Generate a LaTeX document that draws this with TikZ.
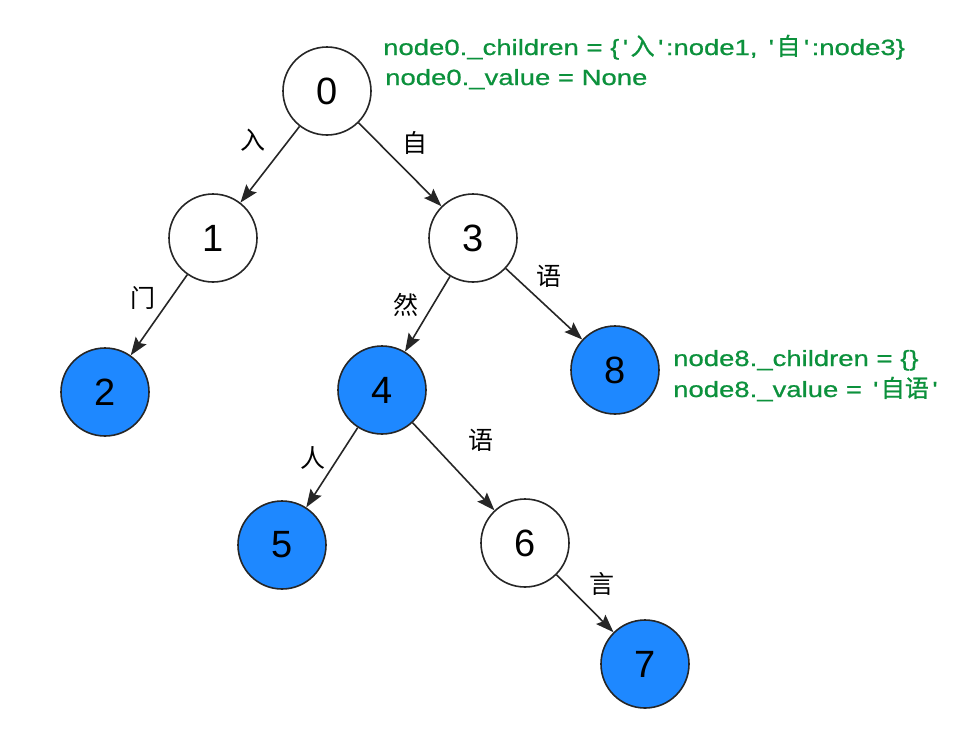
\documentclass[tikz,border=0pt]{standalone}
\usepackage{fontspec}
\setmainfont{Liberation Sans}
\newfontfamily\cjk{Noto Sans CJK SC}
\newfontfamily\codefont[FakeStretch=1.25, FakeBold=0.8]{Liberation Sans}
\newfontfamily\codecjk[FakeBold=0.8]{Noto Sans CJK SC}
\usepackage{tikz}
\usetikzlibrary{arrows.meta}
\definecolor{leafblue}{RGB}{30,136,255}
\definecolor{codegreen}{RGB}{12,145,60}
\newcommand{\q}{\hspace{3.5pt}\textquotesingle\hspace{3.5pt}}
\newcommand{\zh}[1]{{\fontsize{24}{24}\selectfont\codecjk #1}}

\begin{document}
\begin{tikzpicture}[x=1pt, y=-1pt,
        trie/.style={circle, draw=black!85, line width=1.6pt, minimum size=88pt, inner sep=0pt, fill=white, font=\fontsize{38}{38}\selectfont},
        leaf/.style={trie, fill=leafblue},
        edgelbl/.style={font=\fontsize{25}{25}\selectfont\cjk},
        code/.style={anchor=base west, inner sep=0pt, text=codegreen, font=\fontsize{22}{22}\selectfont\codefont},
        link/.style={->, line width=1.6pt, draw=black!85},
        >={Stealth[length=18pt, width=13pt, inset=3pt]}]
        \useasboundingbox (0,0) rectangle (956,740);
        \node[trie] (n0) at (327,91) {0};
        \node[trie] (n1) at (213,238) {1};
        \node[trie] (n3) at (473,238) {3};
        \node[leaf] (n2) at (105,392) {2};
        \node[leaf] (n4) at (382,390) {4};
        \node[leaf] (n8) at (615,370) {8};
        \node[leaf] (n5) at (282,545) {5};
        \node[trie] (n6) at (525,543) {6};
        \node[leaf] (n7) at (645,664) {7};
        \node[edgelbl] (c01) at (253,140) {入};
        \node[edgelbl] (c03) at (415,143) {自};
        \node[edgelbl] (c12) at (143,298) {门};
        \node[edgelbl] (c34) at (406,305) {然};
        \node[edgelbl] (c38) at (549,276) {语};
        \node[edgelbl] (c45) at (313,458) {人};
        \node[edgelbl] (c46) at (481,440) {语};
        \node[edgelbl] (c67) at (602,584) {言};
        \node[code] (v0a) at (383,55) {node0.\_children = \{\q\zh{入}\q:node1, \q\zh{自}\q:node3\}};
        \node[code] (v0b) at (385,85) {node0.\_value = None};
        \node[code] (v8a) at (673,366) {node8.\_children = \{\}};
        \node[code] (v8b) at (673,397) {node8.\_value = \q\zh{自语}\q};
        \draw[link] (n0) -- (n1);
        \draw[link] (n0) -- (n3);
        \draw[link] (n1) -- (n2);
        \draw[link] (n3) -- (n4);
        \draw[link] (n3) -- (n8);
        \draw[link] (n4) -- (n5);
        \draw[link] (n4) -- (n6);
        \draw[link] (n6) -- (n7);
\end{tikzpicture}
\end{document}
